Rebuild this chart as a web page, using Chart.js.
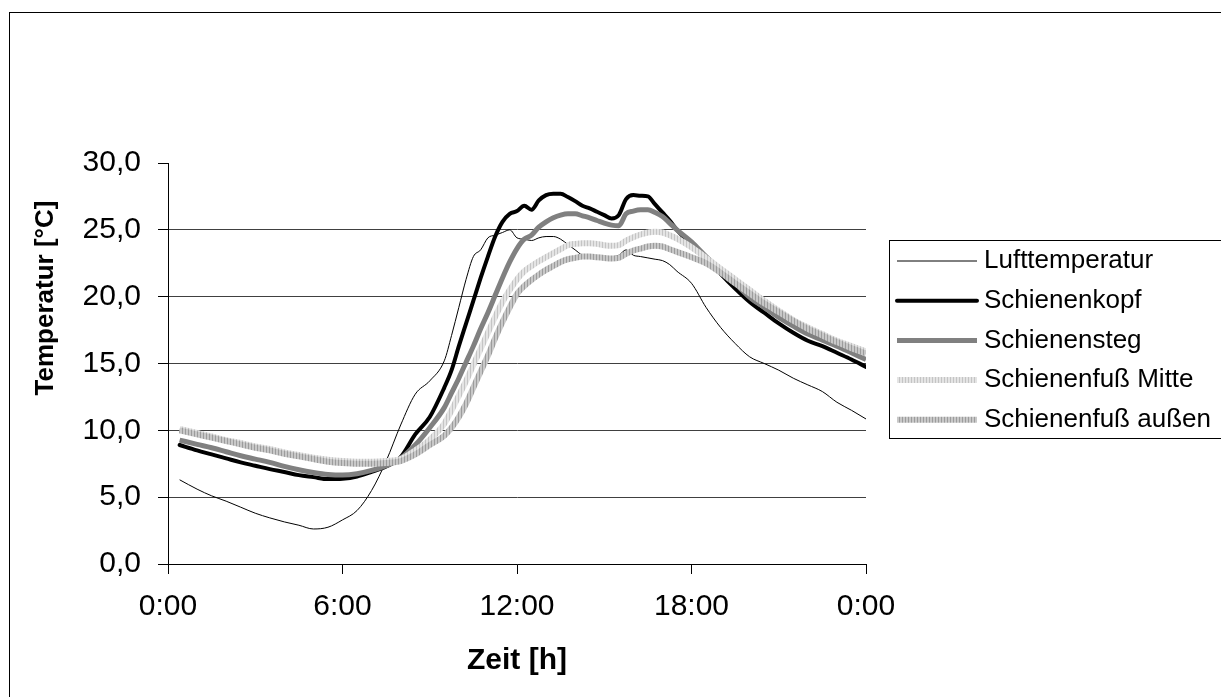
<!DOCTYPE html>
<html>
<head>
<meta charset="utf-8">
<script src="https://cdn.jsdelivr.net/npm/chart.js@4.4.1/dist/chart.umd.min.js"></script>
<style>
  body { margin: 0; background: #fff; }
  canvas { display: block; }
</style>
</head>
<body>
<canvas id="tempChart" width="1221" height="697"></canvas>
<script>
// Zeitpunkte in Stunden (0 = 0:00, 24 = 0:00 am naechsten Tag)
const hours = [0.4, 1, 1.5, 2, 2.5, 3, 3.5, 4, 4.5, 5, 5.5, 6, 6.5, 7, 7.5, 8, 8.5, 9, 9.5,
    9.75, 10, 10.25, 10.5, 10.75, 11, 11.25, 11.5, 11.75, 12, 12.25, 12.5, 12.75, 13, 13.25, 13.5, 13.75,
    14, 14.25, 14.5, 14.75, 15, 15.25, 15.5, 15.75, 16, 16.25, 16.5, 16.75, 17, 17.25, 17.5,
    18, 18.5, 19, 19.5, 20, 20.5, 21, 21.5, 22, 22.5, 23, 23.5, 24];

const seriesNames = ['Lufttemperatur', 'Schienenkopf', 'Schienensteg', 'Schienenfuß Mitte', 'Schienenfuß außen'];

const luftTemp = [6.3, 5.6, 5.1, 4.7, 4.25, 3.8, 3.45, 3.15, 2.9, 2.62, 2.75, 3.3, 4.0, 5.5, 7.7, 10.4, 12.7, 13.7, 15.2,
    17.1, 19.2, 21.3, 23.0, 23.5, 24.4, 24.6, 24.8, 25.0, 24.4, 24.3, 24.2, 24.4, 24.5, 24.5, 24.3, 23.9,
    23.5, 23.1, 23.0, 23.0, 23.0, 23.0, 23.1, 23.5, 23.1, 23.0, 22.9, 22.8, 22.7, 22.4, 21.9,
    21.0, 19.2, 17.7, 16.5, 15.5, 15.0, 14.5, 13.9, 13.4, 12.9, 12.1, 11.5, 10.85];

const kopfTemp = [8.9, 8.5, 8.2, 7.9, 7.6, 7.35, 7.1, 6.88, 6.65, 6.5, 6.35, 6.38, 6.55, 6.9, 7.3, 8.0, 9.7, 11.0, 13.2,
    14.5, 16.3, 18.0, 19.7, 21.4, 23.0, 24.5, 25.6, 26.2, 26.4, 26.8, 26.5, 27.2, 27.6, 27.7, 27.7, 27.45,
    27.15, 26.8, 26.6, 26.35, 26.1, 25.85, 26.1, 27.3, 27.6, 27.55, 27.5, 26.9, 26.3, 25.7, 25.0,
    23.9, 22.9, 21.7, 20.6, 19.6, 18.8, 18.0, 17.3, 16.7, 16.3, 15.8, 15.3, 14.75];

const stegTemp = [9.27, 8.95, 8.7, 8.4, 8.1, 7.85, 7.6, 7.3, 7.05, 6.85, 6.7, 6.65, 6.75, 7.0, 7.35, 7.9, 8.9, 10.2, 11.7,
    12.8, 13.9, 15.1, 16.3, 17.6, 18.8, 20.1, 21.4, 22.6, 23.6, 24.3, 24.6, 25.2, 25.6, 25.9, 26.1, 26.2,
    26.2, 26.05, 25.9, 25.7, 25.5, 25.35, 25.3, 26.2, 26.4, 26.5, 26.5, 26.3, 26.0, 25.5, 25.0,
    24.1, 23.0, 22.0, 21.0, 19.95, 19.2, 18.45, 17.8, 17.2, 16.75, 16.3, 15.8, 15.3];

const fussMitteTemp = [10.1, 9.8, 9.55, 9.27, 9.05, 8.8, 8.6, 8.35, 8.15, 7.95, 7.8, 7.7, 7.65, 7.65, 7.7, 7.85, 8.5, 9.3, 10.5,
    11.5, 12.6, 13.7, 14.9, 16.1, 17.3, 18.5, 19.6, 20.5, 21.3, 21.9, 22.3, 22.65, 22.95, 23.25, 23.55, 23.85,
    23.95, 24.0, 24.0, 23.95, 23.85, 23.8, 23.85, 24.2, 24.45, 24.65, 24.8, 24.85, 24.8, 24.6, 24.35,
    23.7, 22.9, 22.1, 21.3, 20.5, 19.7, 18.95, 18.25, 17.7, 17.2, 16.7, 16.3, 15.9];

const fussAussenTemp = [10.0, 9.7, 9.45, 9.2, 8.95, 8.7, 8.5, 8.25, 8.05, 7.85, 7.65, 7.55, 7.5, 7.5, 7.55, 7.7, 8.2, 8.9, 9.6,
    10.2, 11.0, 12.0, 13.2, 14.4, 15.6, 16.9, 18.1, 19.2, 20.2, 20.8, 21.25, 21.65, 22.0, 22.3, 22.6, 22.8,
    22.9, 23.0, 23.0, 22.95, 22.9, 22.85, 22.9, 23.2, 23.45, 23.6, 23.75, 23.8, 23.75, 23.55, 23.35,
    22.95, 22.5, 21.8, 21.0, 20.25, 19.5, 18.85, 18.2, 17.6, 17.1, 16.6, 16.15, 15.75];

const xTitle = 'Zeit [h]';
const yTitle = 'Temperatur [°C]';

const fontFamily = '"Liberation Sans", Arial, sans-serif';
const canvas = document.getElementById('tempChart');
const ctx = canvas.getContext('2d');

// gestreifte Linien wie im Excel-Muster
function stripePattern(light, dark) {
    const c = document.createElement('canvas');
    c.width = 3;
    c.height = 1;
    const g = c.getContext('2d');
    g.fillStyle = light;
    g.fillRect(0, 0, 3, 1);
    g.fillStyle = dark;
    g.fillRect(2, 0, 1, 1);
    return ctx.createPattern(c, 'repeat');
}

function toPoints(values) {
    return hours.map((h, i) => ({ x: h, y: values[i] }));
}

const lineDefaults = {
    pointRadius: 0,
    fill: false,
    cubicInterpolationMode: 'monotone',
    borderJoinStyle: 'round'
};

// Rahmen, Y-Titel und Legende wie im Original zeichnen
const excelFrame = {
    id: 'excelFrame',
    afterDraw(chart) {
        const c = chart.ctx;
        c.save();
        c.strokeStyle = '#000';
        c.lineWidth = 1;
        c.strokeRect(9.5, 12.5, 1300, 800);

        c.fillStyle = '#000';
        c.font = 'bold 26px ' + fontFamily;
        c.textAlign = 'center';
        c.textBaseline = 'middle';
        c.translate(46, 298);
        c.rotate(-Math.PI / 2);
        c.fillText(yTitle, 0, 0);
        c.restore();

        c.save();
        c.strokeStyle = '#000';
        c.lineWidth = 1;
        c.strokeRect(889.5, 240.5, 400, 198);
        c.font = '26px ' + fontFamily;
        c.fillStyle = '#000';
        c.textAlign = 'left';
        c.textBaseline = 'middle';
        chart.data.datasets.forEach((ds, i) => {
            const y = 261 + i * 39.7;
            c.beginPath();
            c.strokeStyle = ds.borderColor;
            c.lineWidth = ds.borderWidth;
            c.lineCap = ds.borderCapStyle || 'butt';
            c.moveTo(897, y);
            c.lineTo(977, y);
            c.stroke();
            c.fillText(ds.label, 984, y);
        });
        c.restore();
    }
};

const tempChart = new Chart(ctx, {
    type: 'line',
    data: {
        datasets: [
            Object.assign({ label: seriesNames[0], data: toPoints(luftTemp), borderColor: '#000', borderWidth: 1, order: 5 }, lineDefaults),
            Object.assign({ label: seriesNames[1], data: toPoints(kopfTemp), borderColor: '#000', borderWidth: 4, borderCapStyle: 'round', order: 4 }, lineDefaults),
            Object.assign({ label: seriesNames[2], data: toPoints(stegTemp), borderColor: '#808080', borderWidth: 5, order: 3 }, lineDefaults),
            Object.assign({ label: seriesNames[3], data: toPoints(fussMitteTemp), borderColor: stripePattern('#e4e4e4', '#c4c4c4'), borderWidth: 6, order: 2 }, lineDefaults),
            Object.assign({ label: seriesNames[4], data: toPoints(fussAussenTemp), borderColor: stripePattern('#c8c8c8', '#9c9c9c'), borderWidth: 6, order: 1 }, lineDefaults)
        ]
    },
    options: {
        responsive: false,
        maintainAspectRatio: false,
        animation: false,
        layout: { padding: { left: 0, top: 163, right: 355, bottom: 0 } },
        plugins: {
            legend: { display: false },
            tooltip: { enabled: false }
        },
        scales: {
            x: {
                type: 'linear',
                min: 0,
                max: 24,
                afterFit: s => { s.height = 133; },
                border: { color: '#000', width: 1 },
                grid: { drawOnChartArea: false, color: '#000', tickLength: 10 },
                ticks: {
                    stepSize: 6,
                    autoSkip: false,
                    maxRotation: 0,
                    padding: 15,
                    color: '#000',
                    font: { family: fontFamily, size: 30 },
                    callback: v => (v % 24) + ':00'
                },
                title: {
                    display: true,
                    text: xTitle,
                    color: '#000',
                    font: { family: fontFamily, size: 30, weight: 'bold' },
                    padding: { top: 0, bottom: 18 }
                }
            },
            y: {
                min: 0,
                max: 30,
                afterFit: s => { s.width = 168; },
                border: { color: '#000', width: 1 },
                grid: {
                    color: c => (c.tick && c.tick.value === 30) ? 'rgba(0,0,0,0)' : '#404040',
                    tickColor: '#000',
                    tickLength: 10
                },
                ticks: {
                    stepSize: 5,
                    padding: 17,
                    color: '#000',
                    font: { family: fontFamily, size: 30 },
                    callback: v => v.toFixed(1).replace('.', ',')
                }
            }
        }
    },
    plugins: [excelFrame]
});
</script>
</body>
</html>
